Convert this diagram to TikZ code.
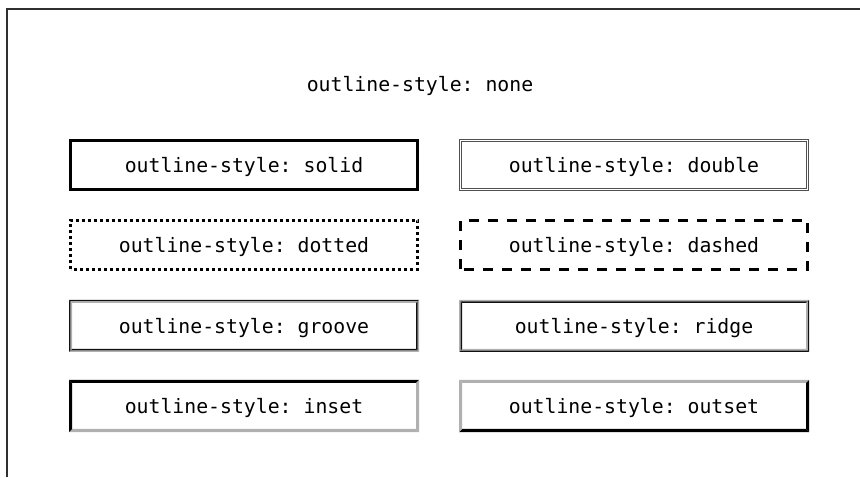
\documentclass[tikz,border=0pt]{standalone}
\usepackage{fontspec}
\setmonofont{DejaVu Sans Mono}
\usetikzlibrary{calc}
\definecolor{framecol}{HTML}{303030}
\definecolor{lightg}{HTML}{B0B0B0}
\definecolor{darkg}{HTML}{101010}
\definecolor{dblcol}{HTML}{505050}
\tikzset{
  x=1pt,y=1pt,
  box/.style={rectangle,minimum width=350pt,minimum height=52pt,inner sep=0pt,outer sep=0pt,
    text height=14.3pt,text depth=0pt,
    font=\ttfamily\fontsize{19.8}{22}\selectfont,text=black},
  thickline/.style={line width=3pt,black},
  label/.style={font=\ttfamily\fontsize{19.8}{22}\selectfont,text=black,inner sep=0pt},
}
% #1 node, #2 start inset, #3 band width, #4 top, #5 right, #6 bottom, #7 left
\newcommand\bevband[7]{%
  \fill[#4] ($(#1.north west)+(#2,-#2)$) -- ($(#1.north east)+(-#2,-#2)$) -- ($(#1.north east)+(-#2-#3,-#2-#3)$) -- ($(#1.north west)+(#2+#3,-#2-#3)$) -- cycle;
  \fill[#5] ($(#1.north east)+(-#2,-#2)$) -- ($(#1.south east)+(-#2,#2)$) -- ($(#1.south east)+(-#2-#3,#2+#3)$) -- ($(#1.north east)+(-#2-#3,-#2-#3)$) -- cycle;
  \fill[#6] ($(#1.south east)+(-#2,#2)$) -- ($(#1.south west)+(#2,#2)$) -- ($(#1.south west)+(#2+#3,#2+#3)$) -- ($(#1.south east)+(-#2-#3,#2+#3)$) -- cycle;
  \fill[#7] ($(#1.south west)+(#2,#2)$) -- ($(#1.north west)+(#2,-#2)$) -- ($(#1.north west)+(#2+#3,-#2-#3)$) -- ($(#1.south west)+(#2+#3,#2+#3)$) -- cycle;
}
\begin{document}
\begin{tikzpicture}
\useasboundingbox (0,0) rectangle (860,477);
\fill[white] (0,0) rectangle (860,477);
% frame
\coordinate (fbl) at (6.5,0);
\coordinate (ftl) at (6.5,467.5);
\coordinate (ftr) at (860,467.5);
\draw[framecol,line width=2pt] (fbl) -- (ftl) -- (ftr);

\node[label] (none) at (420,391) {outline-style: none};

% row 1
\node[box] (solid) at (244,312) {outline-style: solid};
\draw[thickline] ($(solid.south west)+(1.5,1.5)$) rectangle ($(solid.north east)+(-1.5,-1.5)$);
\node[box] (double) at (634,312) {outline-style: double};
\draw[dblcol,line width=1pt] ($(double.south west)+(0.5,0.5)$) rectangle ($(double.north east)+(-0.5,-0.5)$);
\draw[dblcol,line width=1pt] ($(double.south west)+(2.5,2.5)$) rectangle ($(double.north east)+(-2.5,-2.5)$);

% row 2
\node[box] (dotted) at (244,232) {outline-style: dotted};
\draw[thickline,dash pattern=on 3pt off 3pt] ($(dotted.south west)+(1.5,1.5)$) rectangle ($(dotted.north east)+(-1.5,-1.5)$);
\node[box] (dashed) at (634,232) {outline-style: dashed};
\draw[thickline,dash pattern=on 10pt off 9pt] ($(dashed.south west)+(1.5,1.5)$) rectangle ($(dashed.north east)+(-1.5,-1.5)$);

% row 3
\node[box] (groove) at (244,151) {outline-style: groove};
\bevband{groove}{0}{1.5}{darkg}{lightg}{lightg}{darkg}
\bevband{groove}{1.5}{1.5}{lightg}{darkg}{darkg}{lightg}
\node[box] (ridge) at (634,151) {outline-style: ridge};
\bevband{ridge}{0}{1.5}{lightg}{darkg}{darkg}{lightg}
\bevband{ridge}{1.5}{1.5}{darkg}{lightg}{lightg}{darkg}

% row 4
\node[box] (inset) at (244,71) {outline-style: inset};
\bevband{inset}{0}{3}{black}{lightg}{lightg}{black}
\node[box] (outset) at (634,71) {outline-style: outset};
\bevband{outset}{0}{3}{lightg}{black}{black}{lightg}
\end{tikzpicture}
\end{document}
